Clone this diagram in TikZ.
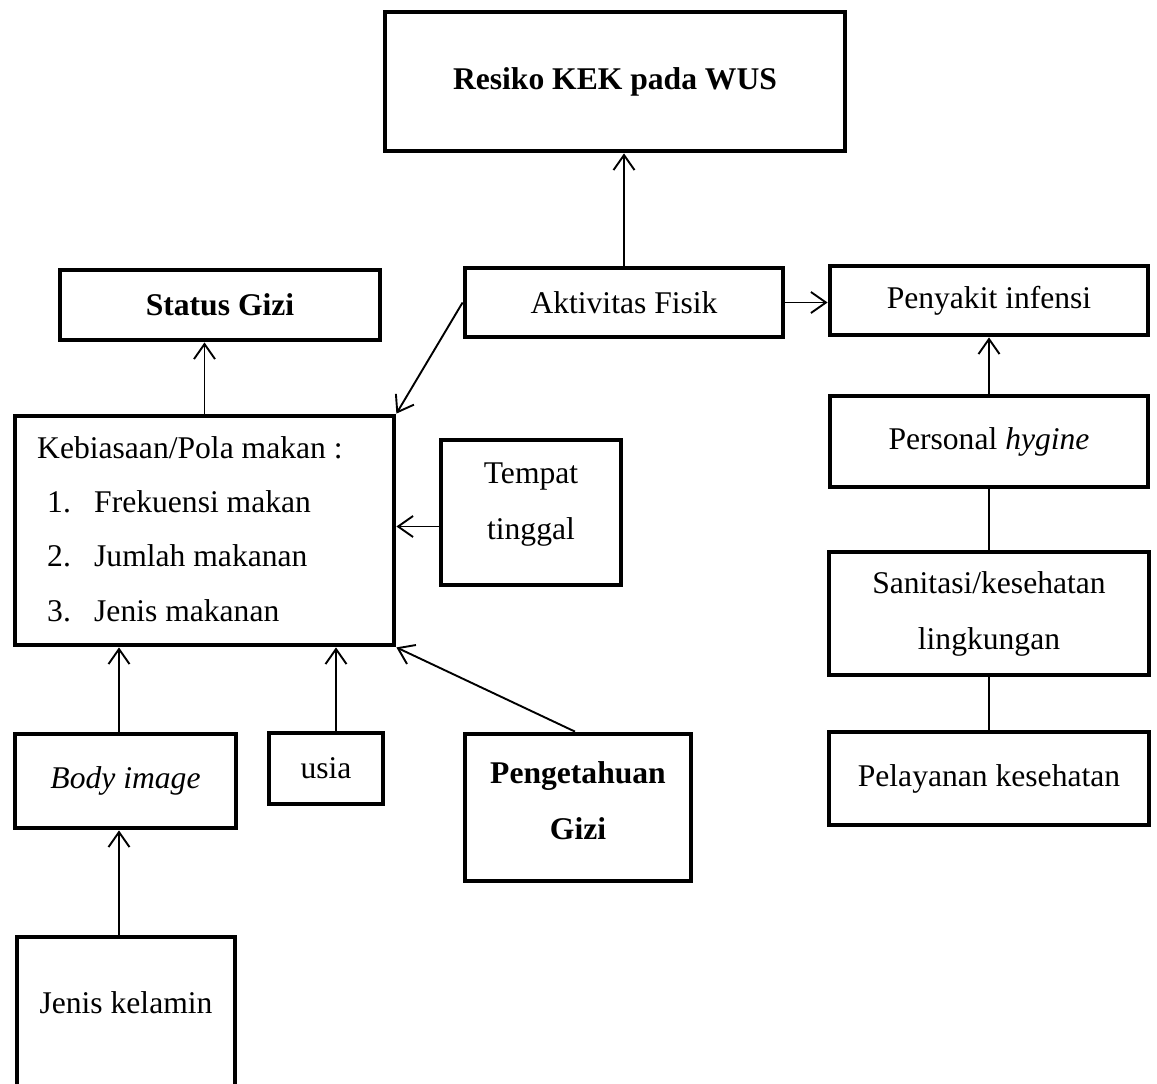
\documentclass[tikz,border=0pt]{standalone}
\usepackage{fontspec}
\setmainfont{Liberation Serif}
\usetikzlibrary{arrows.meta,calc}
\begin{document}
\begin{tikzpicture}[x=1pt,y=-1pt,
  box/.style={draw, line width=4.8pt, inner sep=0pt, align=center, font=\fontsize{31.6}{56}\selectfont},
  txt/.style={inner sep=0pt, align=center, font=\fontsize{31.6}{56}\selectfont},
  arr/.style={line width=1.9pt, -{Straight Barb[length=15pt,width=21pt,line width=1.9pt]}},
  ln/.style={line width=1.9pt}]
\useasboundingbox (0,0) rectangle (1157,1084);
% boxes
\node[box, minimum width=460pt, minimum height=139pt] (res) at (615,81.5) {\textbf{Resiko KEK pada WUS}};
\node[box, minimum width=320pt, minimum height=70pt] (sg) at (220,305) {\textbf{Status Gizi}};
\node[box, minimum width=318pt, minimum height=69pt] (akt) at (624,302.5) {Aktivitas Fisik};
\node[box, minimum width=318pt, minimum height=69pt] (pen) at (989,300.5) {Penyakit infensi};
\node[box, minimum width=379pt, minimum height=229pt] (keb) at (204.5,530.5) {};
\node[box, minimum width=180pt, minimum height=145pt] (tmp) at (531,512.5) {};
\node[box, minimum width=318pt, minimum height=91pt] (per) at (989,441.5) {Personal \textit{hygine}};
\node[box, minimum width=320pt, minimum height=123pt] (san) at (989,613.5) {Sanitasi/kesehatan\\lingkungan};
\node[box, minimum width=320pt, minimum height=93pt] (pel) at (989,778.5) {Pelayanan kesehatan};
\node[box, minimum width=221pt, minimum height=94pt] (bod) at (125.5,781) {\textit{Body image}};
\node[box, minimum width=114pt, minimum height=71pt] (usia) at (326,768.5) {usia};
\node[box, minimum width=226pt, minimum height=147pt] (peng) at (578,807.5) {};
\node[box, minimum width=218pt, minimum height=170pt] (jk) at (126,1022) {};
% texts placed separately
\node[txt, anchor=base west] (k0) at (37,458) {Kebiasaan/Pola makan :};
\node[txt, anchor=base west] (k1n) at (47,512) {1.};
\node[txt, anchor=base west] (k1) at (94,512) {Frekuensi makan};
\node[txt, anchor=base west] (k2n) at (47,566) {2.};
\node[txt, anchor=base west] (k2) at (94,566) {Jumlah makanan};
\node[txt, anchor=base west] (k3n) at (47,621) {3.};
\node[txt, anchor=base west] (k3) at (94,621) {Jenis makanan};
\node[txt] (tmpt) at (531,505) {Tempat\\tinggal};
\node[txt] (pengt) at (578,801) {\textbf{Pengetahuan}\\\textbf{Gizi}};
\node[txt] (jkt) at (126,1003) {Jenis kelamin};
% connectors
\draw[arr] (akt.north) -- (akt.north |- res.south);
\draw[arr] (akt.east) -- (akt.east -| pen.west);
\draw[arr] (akt.west) -- (keb.north east);
\draw[arr] (keb.north) -- (keb.north |- sg.south);
\draw[arr] (per.north) -- (pen.south);
\draw[ln] (san.north) -- (per.south);
\draw[ln] (pel.north) -- (san.south);
\coordinate (t1) at ([yshift=-14pt]tmp.west);
\draw[arr] (t1) -- (t1 -| keb.east);
\coordinate (b1) at ([xshift=-6.5pt]bod.north);
\draw[arr] (b1) -- (b1 |- keb.south);
\coordinate (u1) at ([xshift=10pt]usia.north);
\draw[arr] (u1) -- (u1 |- keb.south);
\draw[arr] ([xshift=-3pt]peng.north) -- (keb.south east);
\coordinate (j1) at ([xshift=-7pt]jk.north);
\draw[arr] (j1) -- (j1 |- bod.south);
\end{tikzpicture}
\end{document}
